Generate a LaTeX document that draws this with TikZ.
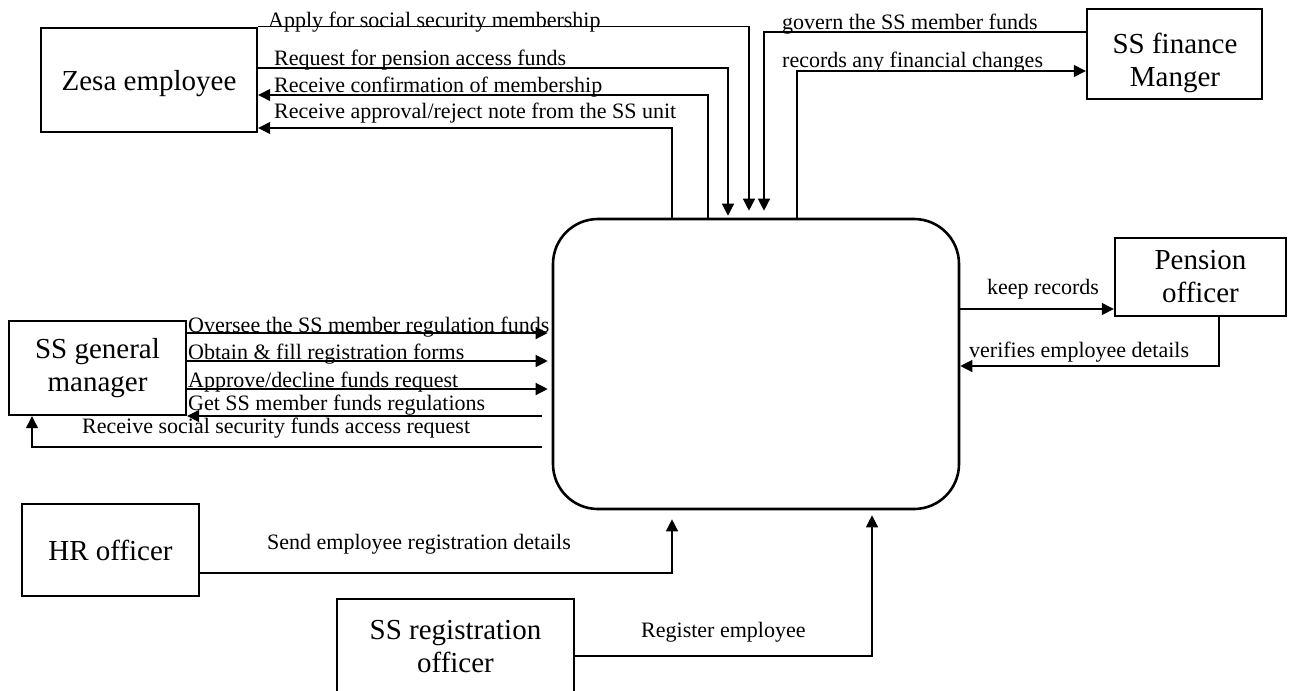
\documentclass[tikz,border=0pt]{standalone}
\usepackage{fontspec}
\setmainfont{Liberation Serif}
\usetikzlibrary{arrows.meta}
\begin{document}
\begin{tikzpicture}[x=1pt,y=-1pt,
  box/.style={draw,line width=2.4pt,align=center,inner sep=0pt,font=\fontsize{29}{33}\selectfont},
  boxtext/.style={align=center,inner sep=0pt,font=\fontsize{29}{33}\selectfont},
  flow/.style={line width=1.3pt,-{Triangle[length=12pt,width=12pt]}},
  lbl/.style={anchor=base west,inner sep=0pt,font=\fontsize{22}{24}\selectfont}]
\useasboundingbox (0,0) rectangle (1291,691);
% nodes
\node[draw,line width=2.6pt,rounded corners=45pt,minimum width=406pt,minimum height=290pt] (center) at (756,364) {};
\node[box,minimum width=216pt,minimum height=104pt] (zesa) at (149,80) {};
\node[boxtext] (zesatext) at (149,84) {Zesa employee};
\node[box,minimum width=175pt,minimum height=90pt] (fin) at (1174.5,54) {};
\node[boxtext] (fintext) at (1175,63) {SS finance\\Manger};
\node[box,minimum width=171pt,minimum height=78pt] (pen) at (1200.5,277) {Pension\\officer};
\node[box,minimum width=177pt,minimum height=94pt] (gm) at (97.5,368) {SS general\\manager};
\node[box,minimum width=177pt,minimum height=92pt] (hr) at (110.5,550) {HR officer};
\node[box,minimum width=237pt,minimum height=96pt] (reg) at (455.5,647) {SS registration\\officer};
% connectors
\draw[flow,shorten >=7pt] (zesa.north east) -| (749,0 |- center.north);
\draw[flow,shorten >=2pt] (zesa.east |- 0,68) -| (728,0 |- center.north);
\draw[flow] (708,0 |- center.north) |- (zesa.east |- 0,95);
\draw[flow] (672,0 |- center.north) |- (zesa.east |- 0,128);
\draw[flow,shorten >=7pt] (fin.west |- 0,32) -| (764,0 |- center.north);
\draw[flow] (797,0 |- center.north) |- (fin.west |- 0,71);
\draw[flow] (center.east |- 0,309) -- (pen.west |- 0,309);
\draw[flow] (1219,0 |- pen.south) |- (center.east |- 0,366);
\draw[flow,shorten >=4pt] (gm.east |- 0,333) -- (center.west |- 0,333);
\draw[flow,shorten >=4pt] (gm.east |- 0,361) -- (center.west |- 0,361);
\draw[flow,shorten >=4pt] (gm.east |- 0,389) -- (center.west |- 0,389);
\draw[flow,shorten <=10pt] (center.west |- 0,416) -- (gm.east |- 0,416);
\draw[flow,shorten <=10pt] (center.west |- 0,447) -| (32,0 |- gm.south);
\draw[flow,shorten >=9pt] (hr.east |- 0,573) -| (672,0 |- center.south);
\draw[flow,shorten >=5pt] (reg.east |- 0,656) -| (872,0 |- center.south);
% labels
\node[lbl] (t1) at (268,27) {Apply for social security membership};
\node[lbl] (t2) at (274,65) {Request for pension access funds};
\node[lbl] (t3) at (274,92) {Receive confirmation of membership};
\node[lbl] (t4) at (274,118) {Receive approval/reject note from the SS unit};
\node[lbl] (t5) at (782,29) {govern the SS member funds};
\node[lbl] (t6) at (782,67) {records any financial changes};
\node[lbl] (t7) at (987,294) {keep records};
\node[lbl] (t8) at (969,357) {verifies employee details};
\node[lbl] (t9) at (188,332) {Oversee the SS member regulation funds};
\node[lbl] (t10) at (188,359) {Obtain \& fill registration forms};
\node[lbl] (t11) at (188,387) {Approve/decline funds request};
\node[lbl] (t12) at (188,410) {Get SS member funds regulations};
\node[lbl] (t13) at (82,433) {Receive social security funds access request};
\node[lbl] (t14) at (267,549) {Send employee registration details};
\node[lbl] (t15) at (641,637) {Register employee};
\end{tikzpicture}
\end{document}
